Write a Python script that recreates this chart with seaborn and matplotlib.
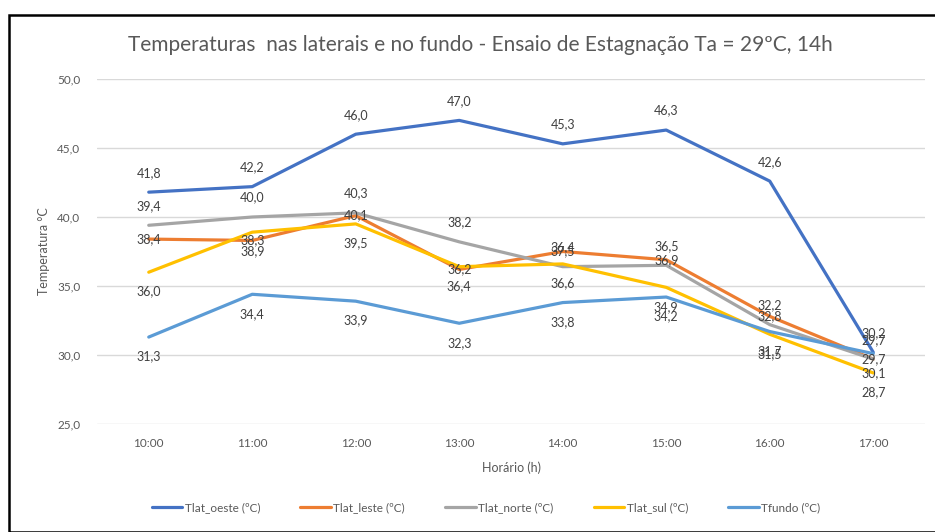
import matplotlib
matplotlib.use("Agg")
import matplotlib.pyplot as plt
import seaborn as sns
import pandas as pd
from matplotlib.patches import Rectangle

hours = ["10:00", "11:00", "12:00", "13:00", "14:00", "15:00", "16:00", "17:00"]
tlat_oeste = [41.8, 42.2, 46.0, 47.0, 45.3, 46.3, 42.6, 30.2]
tlat_leste = [38.4, 38.3, 40.1, 36.2, 37.5, 36.9, 32.8, 29.7]
tlat_norte = [39.4, 40.0, 40.3, 38.2, 36.4, 36.5, 32.2, 29.7]
tlat_sul = [36.0, 38.9, 39.5, 36.4, 36.6, 34.9, 31.5, 28.7]
tfundo = [31.3, 34.4, 33.9, 32.3, 33.8, 34.2, 31.7, 30.1]

series_names = ["Tlat_oeste (ºC)", "Tlat_leste (ºC)", "Tlat_norte (ºC)", "Tlat_sul (ºC)", "Tfundo (ºC)"]
series_values = [tlat_oeste, tlat_leste, tlat_norte, tlat_sul, tfundo]
colors = ["#4472C4", "#ED7D31", "#A5A5A5", "#FFC000", "#5B9BD5"]
label_pos = ["above", "center", "above", "below", "below"]

rows = []
for name, vals in zip(series_names, series_values):
    for i, v in enumerate(vals):
        rows.append({"idx": i, "hora": hours[i], "serie": name, "temp": v})
df = pd.DataFrame(rows)

sns.set_theme(style="white")
plt.rcParams["font.family"] = ["Lato", "DejaVu Sans"]
txt = "#595959"

fig = plt.figure(figsize=(9.35, 5.32), dpi=100)
ax = fig.add_axes([97/935, 1-424/532, (925-97)/935, (424-79)/532])

sns.lineplot(data=df, x="idx", y="temp", hue="serie", palette=colors,
             hue_order=series_names, linewidth=2.3, ax=ax, legend=True,
             sort=False, zorder=3)

for name, vals, pos in zip(series_names, series_values, label_pos):
    for i, v in enumerate(vals):
        lab = f"{v:.1f}".replace(".", ",")
        if pos == "above":
            off = 14
        elif pos == "below":
            off = -14
        else:
            off = 0
        ax.annotate(lab, (i, v), xytext=(0, off), textcoords="offset points",
                    ha="center", va="center", fontsize=9, color="#404040", zorder=5)

ax.set_xlim(-0.5, 7.5)
ax.set_ylim(25, 50)
ax.set_xticks(range(len(hours)))
ax.set_xticklabels(hours)
yt = [25, 30, 35, 40, 45, 50]
ax.set_yticks(yt)
ax.set_yticklabels([f"{t:.1f}".replace(".", ",") for t in yt])
ax.tick_params(axis="both", length=0, labelsize=8.5, labelcolor=txt)
ax.tick_params(axis="y", pad=12)
ax.tick_params(axis="x", pad=10)
ax.grid(axis="y", color="#D9D9D9", linewidth=1)
ax.grid(axis="x", visible=False)
for s in ax.spines.values():
    s.set_visible(False)
ax.set_xlabel("Horário (h)", fontsize=9, color=txt, labelpad=9)
ax.set_ylabel("Temperatura °C", fontsize=9, color=txt, labelpad=5)

fig.text(480/935, 1-45/532, "Temperaturas  nas laterais e no fundo - Ensaio de Estagnação Ta = 29ºC, 14h",
         ha="center", va="center", fontsize=15, color=txt)

handles, labels = ax.get_legend_handles_labels()
ax.legend_.remove()
fig.legend(handles, labels, loc="center", bbox_to_anchor=(486/935, 1-508/532), ncol=5,
           frameon=False, fontsize=8.5, handlelength=2.6, handletextpad=0.2, columnspacing=3.4,
           labelcolor=txt)

fig.patches.append(Rectangle((9/935, 0), 1, 1-15/532, transform=fig.transFigure,
                             fill=False, edgecolor="black", linewidth=1.8))

fig.savefig("out.png", dpi=100)
